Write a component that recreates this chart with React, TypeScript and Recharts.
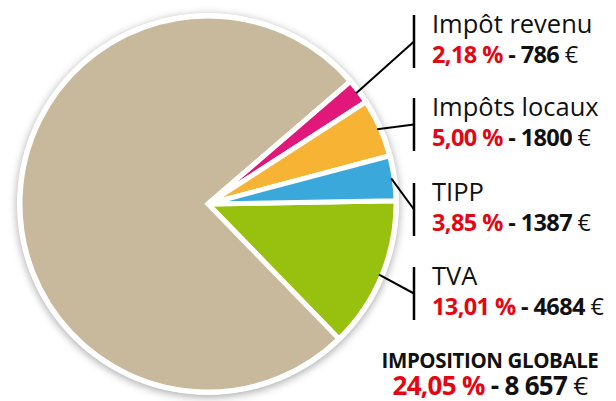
import { PieChart, Pie, Cell, Customized } from 'recharts'

// pie order, clockwise from 3 o'clock
const CATEGORIES = ['TVA', 'Autres', 'Impôt revenu', 'Impôts locaux', 'TIPP']
const AMOUNTS = [4684, 27343, 786, 1800, 1387]
const PERCENT_LABELS = ['13,01', '', '2,18', '5,00', '3,85']
const AMOUNT_LABELS = ['4684', '', '786', '1800', '1387']

const TOTAL_TITLE = 'IMPOSITION GLOBALE'
const TOTAL_PERCENT = '24,05'
const TOTAL_AMOUNT = '8 657'

const COLORS: Record<string, string> = {
  TVA: '#97c00f',
  Autres: '#c8b99c',
  'Impôt revenu': '#e2177a',
  'Impôts locaux': '#f7b334',
  TIPP: '#3aa8da',
}

// top of each label block (vertical bar)
const LABEL_TOP: Record<string, number> = {
  'Impôt revenu': 15,
  'Impôts locaux': 98,
  TIPP: 183,
  TVA: 267,
}

const W = 616
const H = 401
const CX = 208
const CY = 204
const R = 188
const BAR_X = 414
const TEXT_X = 432
const RED = '#e30613'
const FONT = '"Open Sans", sans-serif'

const data = CATEGORIES.map((name, i) => ({
  name,
  value: AMOUNTS[i],
  pct: PERCENT_LABELS[i],
  amt: AMOUNT_LABELS[i],
}))

const RAD = Math.PI / 180

function renderLabel(props: any) {
  const { cx, cy, midAngle, outerRadius, payload, index } = props
  const name = payload?.name ?? data[index].name
  const top = LABEL_TOP[name]
  if (top === undefined) return null
  const d = data[index]
  const r = outerRadius - 3
  const x0 = cx + r * Math.cos(-midAngle * RAD)
  const y0 = cy + r * Math.sin(-midAngle * RAD)
  const barH = 53
  const mid = top + barH / 2
  return (
    <g key={name}>
      <line x1={x0} y1={y0} x2={BAR_X} y2={mid} stroke="#000" strokeWidth={2} />
      <line x1={BAR_X} y1={top} x2={BAR_X} y2={top + barH} stroke="#000" strokeWidth={2.5} />
      <text x={TEXT_X} y={top + 18} fontFamily={FONT} fontSize={25.5} fill="#111">
        {name}
      </text>
      <text x={TEXT_X} y={top + 48} fontFamily={FONT} fontSize={23.5} fill="#111" letterSpacing={-0.6}>
        <tspan fill={RED} fontWeight={700}>{d.pct} %</tspan>
        <tspan fontWeight={700}> - {d.amt}</tspan>
        <tspan fontWeight={400}> €</tspan>
      </text>
    </g>
  )
}

function Total() {
  return (
    <g>
      <text x={490} y={368} textAnchor="middle" fontFamily={FONT} fontSize={20.5} fontWeight={700} fill="#111" letterSpacing={-0.4}>
        {TOTAL_TITLE}
      </text>
      <text x={490} y={395} textAnchor="middle" fontFamily={FONT} fontSize={26} fill="#111" letterSpacing={-0.7}>
        <tspan fill={RED} fontWeight={700}>{TOTAL_PERCENT} %</tspan>
        <tspan fontWeight={700}> - {TOTAL_AMOUNT}</tspan>
        <tspan fontWeight={400}> €</tspan>
      </text>
    </g>
  )
}

export default function App() {
  return (
    <div style={{ position: 'absolute', left: 0, top: 0, width: W, height: H, background: '#fff' }}>
      <div
        style={{
          position: 'absolute',
          left: CX - R - 3,
          top: CY - R - 3,
          width: (R + 3) * 2,
          height: (R + 3) * 2,
          borderRadius: '50%',
          background: '#fff',
          boxShadow: '0 2px 9px rgba(0,0,0,0.35)',
        }}
      />
      <div style={{ position: 'absolute', left: 0, top: 0 }}>
        <PieChart width={W} height={H} margin={{ top: 0, right: 0, bottom: 0, left: 0 }}>
          <Pie
            data={data}
            dataKey="value"
            nameKey="name"
            cx={CX}
            cy={CY}
            outerRadius={R}
            innerRadius={0}
            startAngle={1}
            endAngle={-359}
            stroke="#fff"
            strokeWidth={5}
            label={renderLabel}
            labelLine={false}
            isAnimationActive={false}
          >
            {data.map((d) => (
              <Cell key={d.name} fill={COLORS[d.name]} />
            ))}
          </Pie>
          <Customized component={Total} />
        </PieChart>
      </div>
    </div>
  )
}
